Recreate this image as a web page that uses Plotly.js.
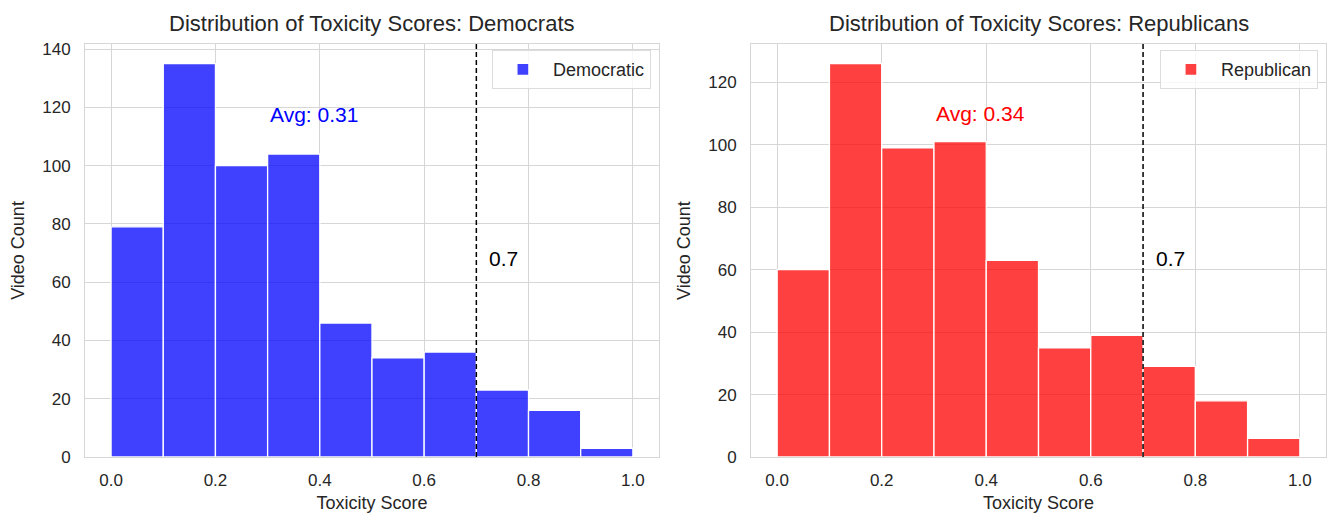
<!DOCTYPE html>
<html>
<head>
<meta charset="utf-8">
<script src="https://cdn.plot.ly/plotly-3.0.1.min.js"></script>
<style>
  html, body { margin: 0; padding: 0; background: #fff; }
  #chart { width: 1328px; height: 513px; }
</style>
</head>
<body>
<div id="chart"></div>
<script>
// Toxicity score bins (left edges, width 0.1)
const binStarts = [0.0, 0.1, 0.2, 0.3, 0.4, 0.5, 0.6, 0.7, 0.8, 0.9];
const binWidth = 0.1;

// Video counts per bin
const demCounts = [79, 135, 100, 104, 46, 34, 36, 23, 16, 3];
const repCounts = [60, 126, 99, 101, 63, 35, 39, 29, 18, 6];

// Summary values
const demAvg = 0.31;
const repAvg = 0.34;
const threshold = 0.7;

const binCenters = binStarts.map(s => s + binWidth / 2);

const FONT = 'Liberation Sans, Arial, sans-serif';
const TEXT = '#262626';
const GRID = '#d6d6d6';

function barTrace(counts, name, color, xa, ya, legendId) {
  return {
    type: 'bar',
    x: binCenters,
    y: counts,
    width: binWidth,
    name: name,
    xaxis: xa,
    yaxis: ya,
    legend: legendId,
    marker: { color: color, line: { color: '#ffffff', width: 1.3 } },
    hoverinfo: 'x+y'
  };
}

const traces = [
  barTrace(demCounts, 'Democratic', 'rgba(0,0,255,0.75)', 'x', 'y', 'legend'),
  barTrace(repCounts, 'Republican', 'rgba(255,0,0,0.75)', 'x2', 'y2', 'legend2')
];

function xAxis(domain, anchor) {
  return {
    domain: domain, anchor: anchor,
    range: [-0.05, 1.05],
    tick0: 0, dtick: 0.2, tickformat: '.1f',
    showgrid: true, gridcolor: GRID, gridwidth: 1,
    zeroline: false,
    showline: true, linecolor: GRID, linewidth: 1, mirror: true,
    ticks: '', ticklabelstandoff: 8,
    tickfont: { family: FONT, size: 17, color: TEXT },
    title: { text: 'Toxicity Score', font: { family: FONT, size: 18, color: TEXT }, standoff: 7 }
  };
}

function yAxis(top, anchor) {
  return {
    domain: [0, 1], anchor: anchor,
    range: [0, top],
    tick0: 0, dtick: 20,
    showgrid: true, gridcolor: GRID, gridwidth: 1,
    zeroline: false,
    showline: true, linecolor: GRID, linewidth: 1, mirror: true,
    ticks: '', ticklabelstandoff: 10,
    tickfont: { family: FONT, size: 17, color: TEXT },
    title: { text: 'Video Count', font: { family: FONT, size: 18, color: TEXT }, standoff: 12 }
  };
}

const demTop = Math.max(...demCounts) * 1.05;
const repTop = Math.max(...repCounts) * 1.05;

function legendBox(xRight) {
  return {
    x: xRight, xanchor: 'right', y: 0.985, yanchor: 'top',
    bgcolor: 'rgba(255,255,255,0.8)', bordercolor: '#dcdcdc', borderwidth: 1,
    font: { family: FONT, size: 18, color: TEXT },
    itemwidth: 50
  };
}

function thresholdLine(xref, yref) {
  return {
    type: 'line', xref: xref, yref: yref + ' domain',
    x0: threshold, x1: threshold, y0: 0, y1: 1,
    line: { color: '#000000', width: 1.5, dash: '5px,3px' }
  };
}

const layout = {
  width: 1328, height: 513,
  margin: { l: 85, r: 2, t: 44, b: 56 },
  paper_bgcolor: '#ffffff', plot_bgcolor: '#ffffff',
  font: { family: FONT, color: TEXT },
  showlegend: true,
  bargap: 0,
  xaxis: xAxis([0, 0.4625], 'y'),
  yaxis: yAxis(demTop, 'x'),
  xaxis2: xAxis([0.5367, 1], 'y2'),
  yaxis2: yAxis(repTop, 'x2'),
  legend: legendBox(0.456),
  legend2: legendBox(0.9935),
  shapes: [thresholdLine('x', 'y'), thresholdLine('x2', 'y2')],
  annotations: [
    { text: 'Distribution of Toxicity Scores: Democrats', xref: 'x domain', yref: 'paper',
      x: 0.5, y: 1.05, xanchor: 'center', yanchor: 'middle', showarrow: false,
      font: { family: FONT, size: 22, color: TEXT } },
    { text: 'Distribution of Toxicity Scores: Republicans', xref: 'x2 domain', yref: 'paper',
      x: 0.5, y: 1.05, xanchor: 'center', yanchor: 'middle', showarrow: false,
      font: { family: FONT, size: 22, color: TEXT } },
    { text: 'Avg: ' + demAvg.toFixed(2), xref: 'x', yref: 'y', x: 0.3, y: 117.5,
      xanchor: 'left', yanchor: 'middle', showarrow: false,
      font: { family: FONT, size: 21, color: '#0000ff' } },
    { text: 'Avg: ' + repAvg.toFixed(2), xref: 'x2', yref: 'y2', x: 0.3, y: 110,
      xanchor: 'left', yanchor: 'middle', showarrow: false,
      font: { family: FONT, size: 21, color: '#ff0000' } },
    { text: String(threshold), xref: 'x', yref: 'y', x: threshold + 0.02, y: 68,
      xanchor: 'left', yanchor: 'middle', showarrow: false,
      font: { family: FONT, size: 21, color: '#000000' } },
    { text: String(threshold), xref: 'x2', yref: 'y2', x: threshold + 0.02, y: 63.5,
      xanchor: 'left', yanchor: 'middle', showarrow: false,
      font: { family: FONT, size: 21, color: '#000000' } }
  ]
};

Plotly.newPlot('chart', traces, layout, { displayModeBar: false, staticPlot: true });
</script>
</body>
</html>
